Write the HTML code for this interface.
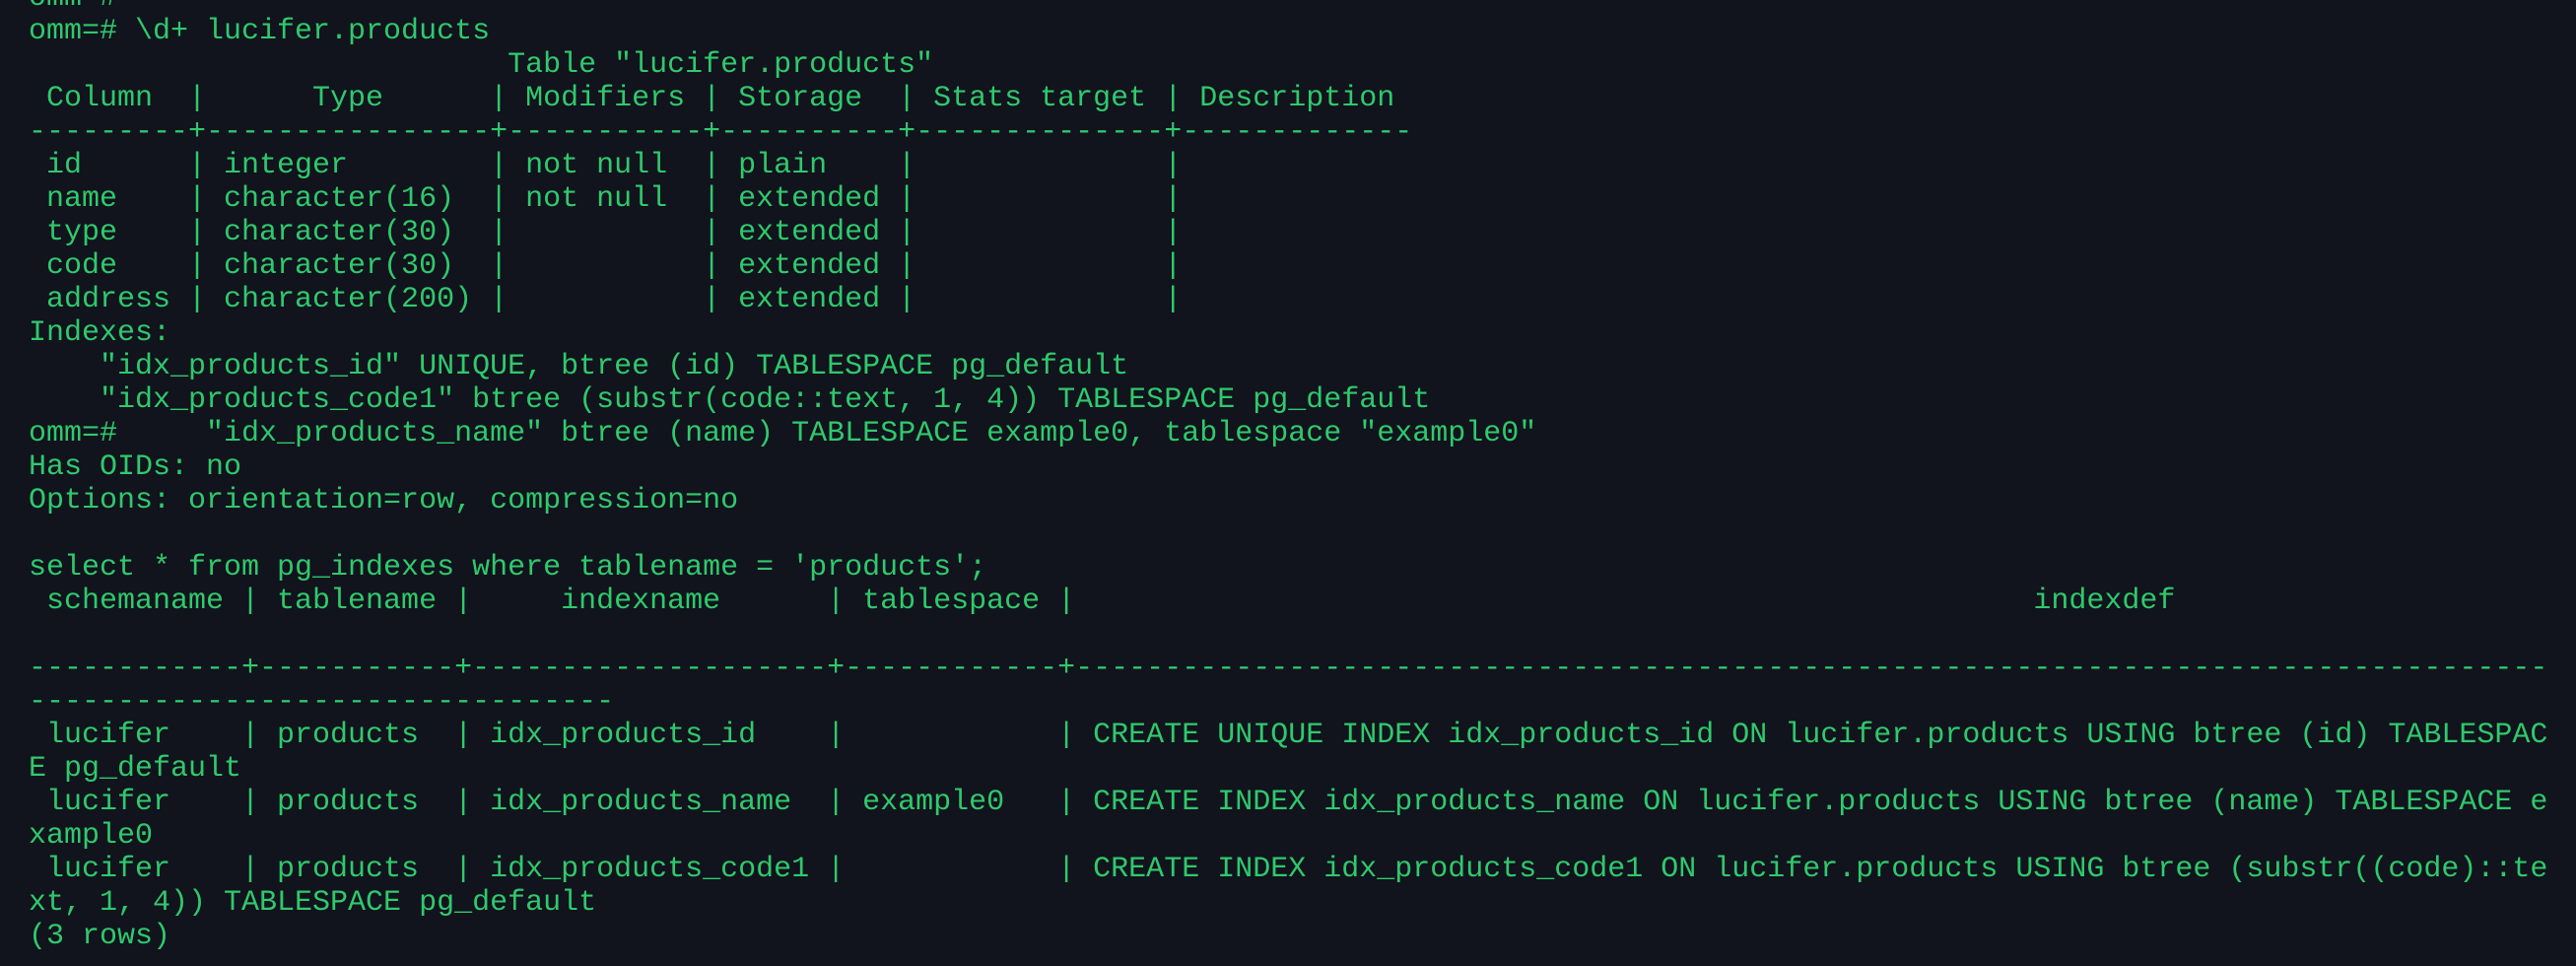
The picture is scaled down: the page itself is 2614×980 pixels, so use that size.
<!DOCTYPE html>
<html><head><meta charset="utf-8"><style>
html,body{margin:0;padding:0;background:#11131d;width:2614px;height:980px;overflow:hidden}
pre{margin:0;position:absolute;left:29px;top:-19px;font-family:"Liberation Mono",monospace;font-size:30px;line-height:34px;color:#2fc96c;white-space:pre}
</style></head><body><pre>omm=#
omm=# \d+ lucifer.products
                           Table "lucifer.products"
 Column  |      Type      | Modifiers | Storage  | Stats target | Description
---------+----------------+-----------+----------+--------------+-------------
 id      | integer        | not null  | plain    |              |
 name    | character(16)  | not null  | extended |              |
 type    | character(30)  |           | extended |              |
 code    | character(30)  |           | extended |              |
 address | character(200) |           | extended |              |
Indexes:
    "idx_products_id" UNIQUE, btree (id) TABLESPACE pg_default
    "idx_products_code1" btree (substr(code::text, 1, 4)) TABLESPACE pg_default
omm=#     "idx_products_name" btree (name) TABLESPACE example0, tablespace "example0"
Has OIDs: no
Options: orientation=row, compression=no

select * from pg_indexes where tablename = 'products';
 schemaname | tablename |     indexname      | tablespace |                                                      indexdef

------------+-----------+--------------------+------------+-----------------------------------------------------------------------------------
---------------------------------
 lucifer    | products  | idx_products_id    |            | CREATE UNIQUE INDEX idx_products_id ON lucifer.products USING btree (id) TABLESPAC
E pg_default
 lucifer    | products  | idx_products_name  | example0   | CREATE INDEX idx_products_name ON lucifer.products USING btree (name) TABLESPACE e
xample0
 lucifer    | products  | idx_products_code1 |            | CREATE INDEX idx_products_code1 ON lucifer.products USING btree (substr((code)::te
xt, 1, 4)) TABLESPACE pg_default
(3 rows)</pre></body></html>
